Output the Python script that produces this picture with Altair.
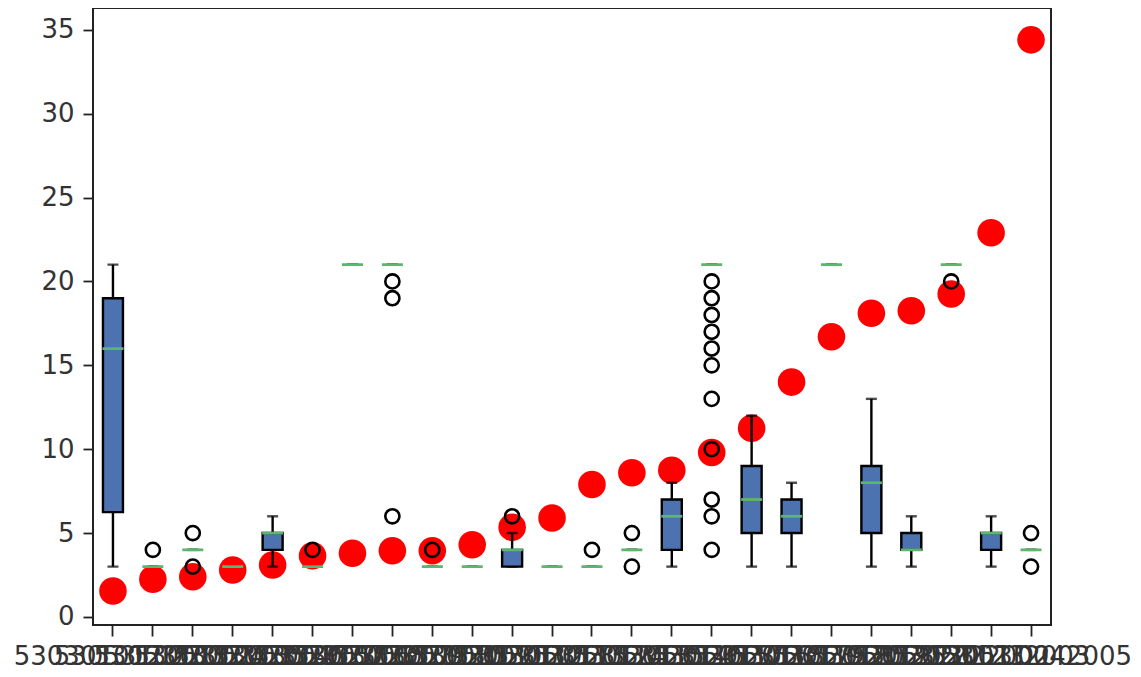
import altair as alt
import pandas as pd

labels = [
    "530301012001", "530531022002", "530531032003", "530531042004",
    "530531052005", "530531062006", "530531072007", "530531082008",
    "530531092009", "530531102010", "530531112011", "530531122012",
    "530531132013", "530531142014", "530531152015", "530531162016",
    "530531172017", "530531182018", "530531192019", "530531202020",
    "530531212001", "530531222002", "530531232003", "53053D042005",
]

red_vals = [1.55, 2.25, 2.4, 2.8, 3.1, 3.65, 3.8, 3.95, 3.95, 4.3, 5.35, 5.9,
            7.9, 8.6, 8.75, 9.8, 11.25, 14.0, 16.7, 18.1, 18.25, 19.25, 22.9, 34.4]

q1 = [6.25, 3, 4, 3, 4, 3, 21, 21, 3, 3, 3, 3, 3, 4, 4, 21, 5, 5, 21, 5, 4, 21, 4, 4]
q3 = [19, 3, 4, 3, 5, 3, 21, 21, 3, 3, 4, 3, 3, 4, 7, 21, 9, 7, 21, 9, 5, 21, 5, 4]
med = [16, 3, 4, 3, 5, 3, 21, 21, 3, 3, 4, 3, 3, 4, 6, 21, 7, 6, 21, 8, 4, 21, 5, 4]
wlo = [3, 3, 4, 3, 3, 3, 21, 21, 3, 3, 3, 3, 3, 4, 3, 21, 3, 3, 21, 3, 3, 21, 3, 4]
whi = [21, 3, 4, 3, 6, 3, 21, 21, 3, 3, 5, 3, 3, 4, 8, 21, 12, 8, 21, 13, 6, 21, 6, 4]

flier_idx = [2, 3, 3, 6, 8, 8, 8, 9, 11, 13, 14, 14,
             16, 16, 16, 16, 16, 16, 16, 16, 16, 16, 16,
             22, 24, 24]
flier_val = [4, 5, 3, 4, 20, 19, 6, 4, 6, 4, 5, 3,
             20, 19, 18, 17, 16, 15, 13, 10, 7, 6, 4,
             20, 5, 3]

box_df = pd.DataFrame({"cat": labels, "q1": q1, "q3": q3, "med": med,
                       "wlo": wlo, "whi": whi})
red_df = pd.DataFrame({"cat": labels, "v": red_vals})
flier_df = pd.DataFrame({"cat": [labels[i - 1] for i in flier_idx], "v": flier_val})

FONT = "DejaVu Sans"
x_enc = alt.X(
    "cat:N",
    sort=labels,
    scale=alt.Scale(domain=labels, paddingInner=0, paddingOuter=0),
    axis=alt.Axis(title=None, labelAngle=0, labelOverlap=False, labelFontSize=26,
                  labelFont=FONT, labelColor="#333", tickSize=11, tickColor="#222",
                  tickWidth=1.8, domain=False, labelPadding=7, labelBound=False,
                  labelLimit=1000),
)
y_scale = alt.Scale(domain=[-0.48, 36.3], nice=False, zero=False)
y_axis = alt.Axis(title=None, values=[0, 5, 10, 15, 20, 25, 30, 35], grid=False,
                  domain=False, labelFontSize=26, labelFont=FONT, labelColor="#333",
                  tickSize=10, tickColor="#222", tickWidth=1.8, labelPadding=9)

red = alt.Chart(red_df).mark_circle(size=760, color="#ff0000", opacity=1).encode(
    x=x_enc, y=alt.Y("v:Q", scale=y_scale, axis=y_axis))

base = alt.Chart(box_df)
whisk_lo = base.mark_rule(color="black", strokeWidth=2.4).encode(
    x=x_enc, y=alt.Y("wlo:Q", scale=y_scale, axis=y_axis), y2="q1:Q")
whisk_hi = base.mark_rule(color="black", strokeWidth=2.4).encode(
    x=x_enc, y=alt.Y("q3:Q", scale=y_scale, axis=y_axis), y2="whi:Q")
cap_lo = base.mark_tick(color="black", size=11, thickness=2.4).encode(
    x=x_enc, y=alt.Y("wlo:Q", scale=y_scale, axis=y_axis))
cap_hi = base.mark_tick(color="black", size=11, thickness=2.4).encode(
    x=x_enc, y=alt.Y("whi:Q", scale=y_scale, axis=y_axis))
boxes = base.transform_filter(alt.datum.q3 > alt.datum.q1).mark_bar(
    size=20, color="#4C72B0", stroke="black", strokeWidth=2.4).encode(
    x=x_enc, y=alt.Y("q1:Q", scale=y_scale, axis=y_axis), y2="q3:Q")
medians = base.mark_tick(color="#5DB570", size=21, thickness=2.8, opacity=1).encode(
    x=x_enc, y=alt.Y("med:Q", scale=y_scale, axis=y_axis))

fliers = alt.Chart(flier_df).mark_point(
    shape="circle", filled=False, color="black", strokeWidth=2.6, size=200, opacity=1
).encode(x=x_enc, y=alt.Y("v:Q", scale=y_scale, axis=y_axis))

chart = alt.layer(red, whisk_lo, whisk_hi, cap_lo, cap_hi, boxes, medians, fliers).properties(
    width=958, height=617,
    autosize=alt.AutoSizeParams(type="none"),
    padding={"left": 85, "top": 0, "right": 82, "bottom": 44},
    background="white",
).configure_view(stroke="#222", strokeWidth=2)

chart.save("out.html", embed_options={"renderer": "svg", "actions": False})
